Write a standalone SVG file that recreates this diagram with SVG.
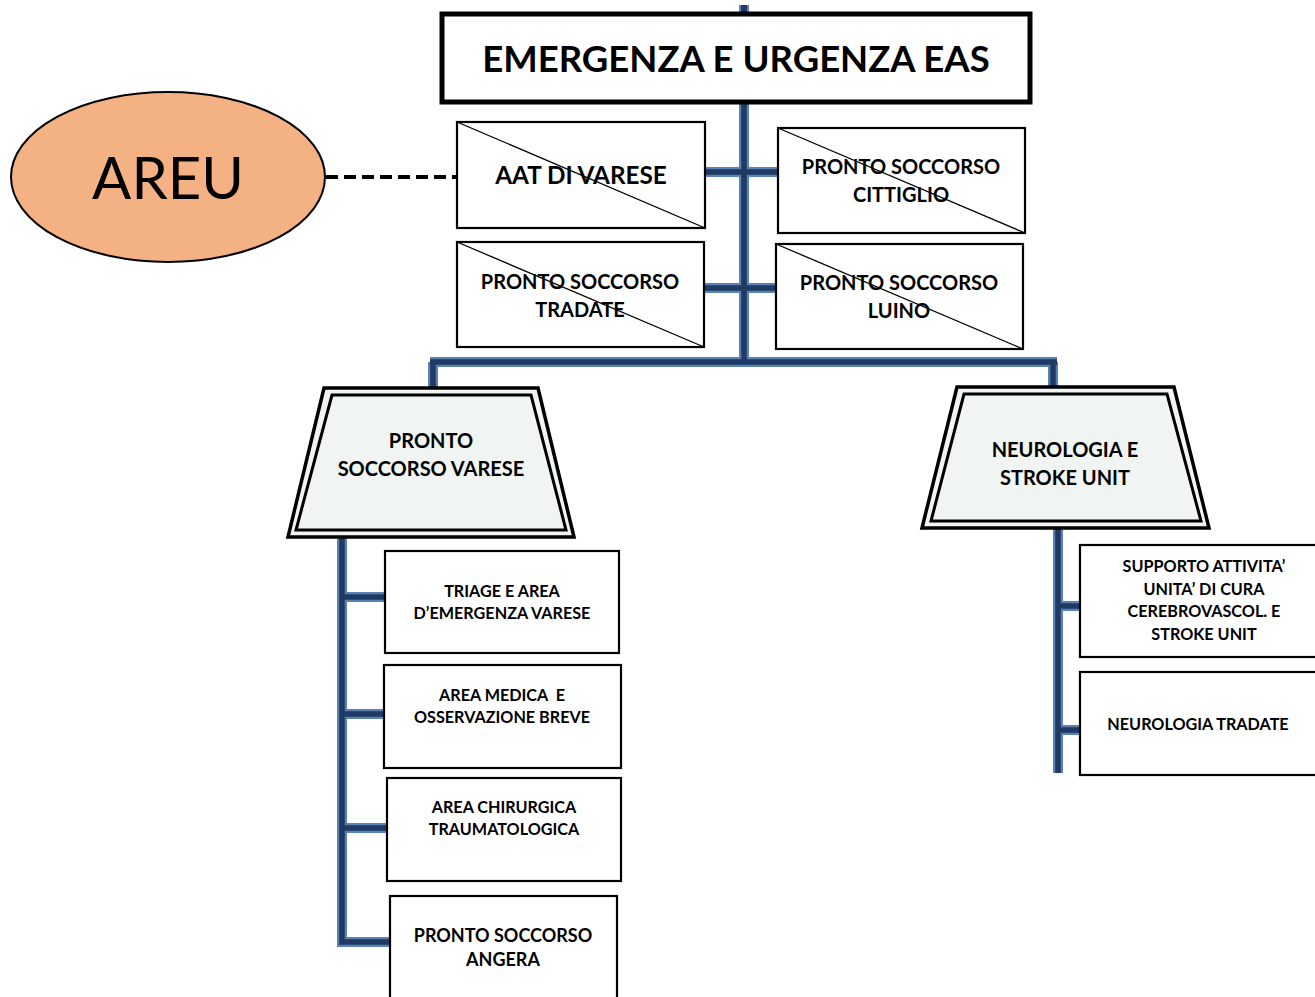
<svg xmlns="http://www.w3.org/2000/svg" width="1315" height="997" viewBox="0 0 1315 997">
<style>
.t{font-family:Lato,"Open Sans","Liberation Sans",sans-serif;font-weight:bold;fill:#000;text-anchor:middle}
.box{fill:#fff;stroke:#000;stroke-width:2.2}
.x{stroke:#000;stroke-width:1.3;fill:none}
.co{fill:none;stroke:#5B80B4;stroke-width:10}
.ci{fill:none;stroke:#1F3A63;stroke-width:5.5}
.trap{fill:#F0F5F3;stroke:#000;stroke-width:3.5}
.trapi{fill:none;stroke:#000;stroke-width:3}
.s{font-size:16.2px}
.m{font-size:20px}
</style>
<rect width="1315" height="997" fill="#fff"/>
<g id="connectors">
  <g class="co">
    <path d="M744 5V360M705 172H778M704 288H776M430 362H1057M433 362V390M1053 362V388M342 537V942H390M342 597H385M342 714H384M342 828H387M1058 529V773M1058 606H1080M1058 730H1080"/>
  </g>
  <g class="ci">
    <path d="M744 5V360M705 172H778M704 288H776M430 362H1057M433 362V390M1053 362V388M342 537V942H390M342 597H385M342 714H384M342 828H387M1058 529V773M1058 606H1080M1058 730H1080"/>
  </g>
  <line x1="326" y1="177" x2="457" y2="177" stroke="#000" stroke-width="4" stroke-dasharray="12 6"/>
</g>
<g id="main">
  <rect x="442" y="14" width="588" height="88" fill="#fff" stroke="#000" stroke-width="5"/>
  <text class="t" x="736" y="72" font-size="36.5">EMERGENZA E URGENZA EAS</text>
</g>
<g id="areu">
  <ellipse cx="168" cy="177" rx="157" ry="85" fill="#F4B183" stroke="#000" stroke-width="2"/>
  <text x="168" y="199" font-size="58" text-anchor="middle" font-family="Lato,'Open Sans','Liberation Sans',sans-serif">AREU</text>
</g>
<g id="aat">
  <rect class="box" x="457" y="122" width="248" height="106"/>
  <line class="x" x1="457" y1="122" x2="705" y2="228"/>
  <text class="t" x="581" y="184" font-size="24.3">AAT DI VARESE</text>
</g>
<g id="ps-cittiglio">
  <rect class="box" x="778" y="128" width="247" height="105"/>
  <line class="x" x1="778" y1="128" x2="1025" y2="233"/>
  <text class="t m" x="901" y="174">PRONTO SOCCORSO</text>
  <text class="t m" x="901" y="202">CITTIGLIO</text>
</g>
<g id="ps-tradate">
  <rect class="box" x="457" y="242" width="247" height="105"/>
  <line class="x" x1="457" y1="242" x2="704" y2="347"/>
  <text class="t m" x="580" y="289">PRONTO SOCCORSO</text>
  <text class="t m" x="580" y="317">TRADATE</text>
</g>
<g id="ps-luino">
  <rect class="box" x="776" y="244" width="247" height="105"/>
  <line class="x" x1="776" y1="244" x2="1023" y2="349"/>
  <text class="t m" x="899" y="290">PRONTO SOCCORSO</text>
  <text class="t m" x="899" y="318">LUINO</text>
</g>
<g id="ps-varese">
  <polygon class="trap" points="324,388 538,388 574,537 288,537"/>
  <polygon class="trapi" points="332,395 531,395 566,530 296,530"/>
  <text class="t m" x="431" y="448">PRONTO</text>
  <text class="t m" x="431" y="476">SOCCORSO VARESE</text>
</g>
<g id="neurologia">
  <polygon class="trap" points="957,387 1174,387 1209,528 922,528"/>
  <polygon class="trapi" points="964,394 1167,394 1201,521 931,521"/>
  <text class="t m" x="1065" y="457">NEUROLOGIA E</text>
  <text class="t m" x="1065" y="485">STROKE UNIT</text>
</g>
<g id="triage">
  <rect class="box" x="385" y="551" width="234" height="102"/>
  <text class="t s" x="502" y="597">TRIAGE E AREA</text>
  <text class="t s" x="502" y="619">D’EMERGENZA VARESE</text>
</g>
<g id="area-medica">
  <rect class="box" x="384" y="665" width="237" height="103"/>
  <text class="t s" x="502" y="701" xml:space="preserve">AREA MEDICA  E</text>
  <text class="t s" x="502" y="723">OSSERVAZIONE BREVE</text>
</g>
<g id="area-chirurgica">
  <rect class="box" x="387" y="778" width="234" height="103"/>
  <text class="t s" x="504" y="813">AREA CHIRURGICA</text>
  <text class="t s" x="504" y="835">TRAUMATOLOGICA</text>
</g>
<g id="ps-angera">
  <rect class="box" x="390" y="896" width="227" height="110"/>
  <text class="t" x="503" y="942" font-size="18">PRONTO SOCCORSO</text>
  <text class="t" x="503" y="966" font-size="18">ANGERA</text>
</g>
<g id="supporto">
  <rect class="box" x="1080" y="545" width="245" height="112"/>
  <text class="t s" x="1204" y="572">SUPPORTO ATTIVITA’</text>
  <text class="t s" x="1204" y="595">UNITA’ DI CURA</text>
  <text class="t s" x="1204" y="617">CEREBROVASCOL. E</text>
  <text class="t s" x="1204" y="640">STROKE UNIT</text>
</g>
<g id="neurologia-tradate">
  <rect class="box" x="1080" y="672" width="245" height="103"/>
  <text class="t s" x="1198" y="730">NEUROLOGIA TRADATE</text>
</g>
</svg>
